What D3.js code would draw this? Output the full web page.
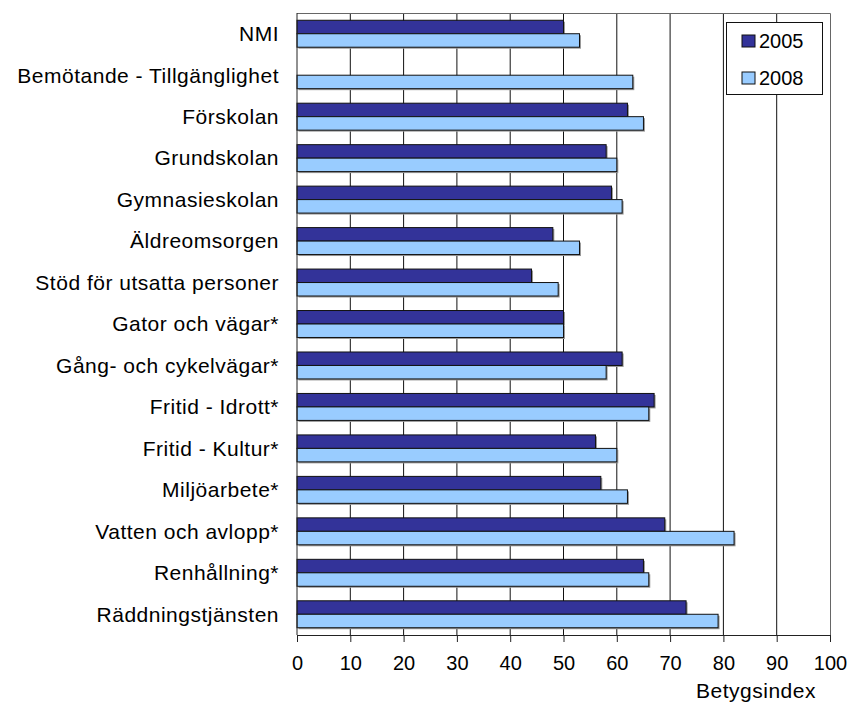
<!DOCTYPE html>
<html>
<head>
<meta charset="utf-8">
<script src="https://cdn.jsdelivr.net/npm/d3@7"></script>
<style>
  body { margin: 0; background: #fff; }
  svg { display: block; font-family: "Liberation Sans", Arial, sans-serif; }
</style>
</head>
<body>
<svg id="chart" width="851" height="705"></svg>
<script>
// data
const categories = [
  "NMI", "Bemötande - Tillgänglighet", "Förskolan", "Grundskolan",
  "Gymnasieskolan", "Äldreomsorgen", "Stöd för utsatta personer",
  "Gator och vägar*", "Gång- och cykelvägar*", "Fritid - Idrott*",
  "Fritid - Kultur*", "Miljöarbete*", "Vatten och avlopp*",
  "Renhållning*", "Räddningstjänsten"
];
const series = ["2005", "2008"];
const values2005 = [50, null, 62, 58, 59, 48, 44, 50, 61, 67, 56, 57, 69, 65, 73];
const values2008 = [53, 63, 65, 60, 61, 53, 49, 50, 58, 66, 60, 62, 82, 66, 79];
const xTicks = [0, 10, 20, 30, 40, 50, 60, 70, 80, 90, 100];
const colors = { "2005": "#333399", "2008": "#99CCFF" };

const svg = d3.select("#chart");
const plotLeft = 297, plotRight = 830, plotTop = 13, plotBottom = 635;

const x = d3.scaleLinear().domain([0, 100]).range([plotLeft, plotRight]);
const y = d3.scaleBand().domain(categories).range([plotTop, plotBottom])
    .paddingInner(0.35).paddingOuter(0.175);
const ySub = d3.scaleBand().domain(series).range([0, y.bandwidth()]);

const rows = categories.map((c, i) => ({
  cat: c,
  vals: [
    { s: "2005", v: values2005[i] },
    { s: "2008", v: values2008[i] }
  ].filter(d => d.v != null)
}));

// gridlines
svg.append("g").selectAll("line")
  .data(xTicks.slice(1, -1))
  .join("line")
    .attr("x1", d => x(d)).attr("x2", d => x(d))
    .attr("y1", plotTop).attr("y2", plotBottom)
    .attr("stroke", "#111").attr("stroke-width", 1);

// plot frame top / right
svg.append("path")
  .attr("d", `M${plotLeft},${plotTop + 0.5}H${plotRight + 0.5}V${plotBottom}`)
  .attr("fill", "none").attr("stroke", "#666").attr("stroke-width", 1);

// bars
const groups = svg.append("g").selectAll("g")
  .data(rows)
  .join("g")
    .attr("transform", d => `translate(0,${y(d.cat)})`);

groups.selectAll("rect.shadow")
  .data(d => d.vals)
  .join("rect")
    .attr("class", "shadow")
    .attr("x", x(0) + 1.5)
    .attr("y", d => ySub(d.s) + 1.5)
    .attr("width", d => x(d.v) - x(0))
    .attr("height", ySub.bandwidth())
    .attr("fill", "#999");

groups.selectAll("rect.bar")
  .data(d => d.vals)
  .join("rect")
    .attr("class", "bar")
    .attr("x", x(0))
    .attr("y", d => ySub(d.s))
    .attr("width", d => x(d.v) - x(0))
    .attr("height", ySub.bandwidth())
    .attr("fill", d => colors[d.s])
    .attr("stroke", "#111").attr("stroke-width", 1);

// x axis
const xAxis = svg.append("g")
  .attr("transform", `translate(0,${plotBottom})`)
  .call(d3.axisBottom(x).tickValues(xTicks).tickSize(7).tickPadding(14))
xAxis.select(".domain").attr("stroke", "#222");
xAxis.selectAll(".tick line").attr("stroke", "#222");
xAxis.selectAll("text")
  .attr("font-size", 20).attr("fill", "#000")
  .attr("font-family", "Liberation Sans, Arial, sans-serif");

// y axis line
svg.append("line")
  .attr("x1", plotLeft).attr("x2", plotLeft)
  .attr("y1", plotTop).attr("y2", plotBottom)
  .attr("stroke", "#222");

// category labels
svg.append("g").selectAll("text")
  .data(categories)
  .join("text")
    .attr("x", 279)
    .attr("y", d => y(d) + y.bandwidth() / 2)
    .attr("dy", "0.35em")
    .attr("text-anchor", "end")
    .attr("font-size", 21)
    .attr("letter-spacing", 0.5)
    .text(d => d);

svg.append("text")
  .attr("x", 756).attr("y", 698)
  .attr("text-anchor", "middle")
  .attr("font-size", 21)
  .attr("letter-spacing", 0.5)
  .text("Betygsindex");

// legend
const legend = svg.append("g");
legend.append("rect")
  .attr("x", 726.5).attr("y", 22.5).attr("width", 96).attr("height", 72)
  .attr("fill", "#fff").attr("stroke", "#111");
const items = legend.selectAll("g")
  .data(series)
  .join("g")
    .attr("transform", (d, i) => `translate(742,${35 + i * 37})`);
items.append("rect")
  .attr("width", 13).attr("height", 12)
  .attr("fill", d => colors[d]).attr("stroke", "#111");
items.append("text")
  .attr("x", 17).attr("y", 13)
  .attr("font-size", 20)
  .text(d => d);
</script>
</body>
</html>
